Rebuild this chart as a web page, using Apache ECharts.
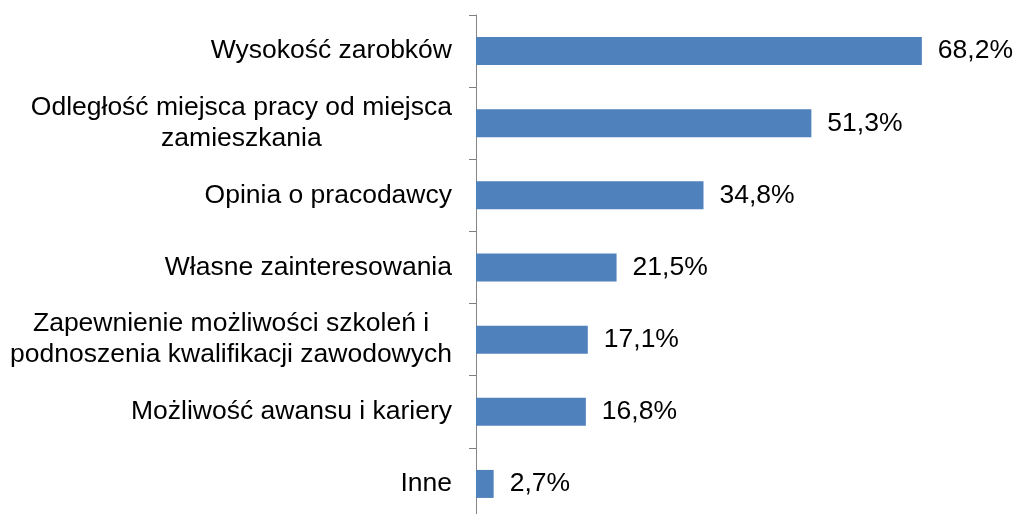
<!DOCTYPE html>
<html>
<head>
<meta charset="utf-8">
<script src="https://cdn.jsdelivr.net/npm/echarts@6/dist/echarts.min.js"></script>
<style>
  html, body { margin: 0; padding: 0; background: #fff; }
  #chart { width: 1015px; height: 514px; }
</style>
</head>
<body>
<div id="chart"></div>
<script>
var categories = [
    'Wysokość zarobków',
    'Odległość miejsca pracy od miejsca\nzamieszkania',
    'Opinia o pracodawcy',
    'Własne zainteresowania',
    'Zapewnienie możliwości szkoleń i\npodnoszenia kwalifikacji zawodowych',
    'Możliwość awansu i kariery',
    'Inne'
]
var values = [68.2, 51.3, 34.8, 21.5, 17.1, 16.8, 2.7]

var font = 'Liberation Sans, Arial'
var myChart = echarts.init(document.getElementById('chart'))
var option = {
    animation: false,
    grid: {
        left: 476,
        top: 15,
        width: 523,
        height: 505,
        outerBoundsMode: 'none',
        containLabel: false
    },
    xAxis: {
        type: 'value',
        min: 0,
        max: 80,
        show: false
    },
    yAxis: {
        type: 'category',
        inverse: true,
        data: categories,
        axisLine: { show: true, lineStyle: { color: '#868686', width: 1 } },
        axisTick: { show: true, length: 7, lineStyle: { color: '#7f7f7f' } },
        axisLabel: {
            margin: 24,
            align: 'right',
            formatter: function(v) {
                // each line centred inside the right-aligned block
                return v.split('\n').map(function(l) { return '{c|' + l + '}' }).join('\n')
            },
            rich: {
                c: {
                    align: 'center',
                    color: '#000',
                    fontFamily: font,
                    fontSize: 26.5,
                    lineHeight: 31
                }
            }
        }
    },
    series: [
        {
            type: 'bar',
            data: values,
            barWidth: 28,
            itemStyle: { color: '#4F81BD' },
            label: {
                show: true,
                position: 'right',
                distance: 16,
                color: '#000',
                fontFamily: font,
                fontSize: 26.5,
                formatter: function(p) {
                    return p.value.toFixed(1).replace('.', ',') + '%'
                }
            }
        }
    ]
}
myChart.setOption(option)
</script>
</body>
</html>
